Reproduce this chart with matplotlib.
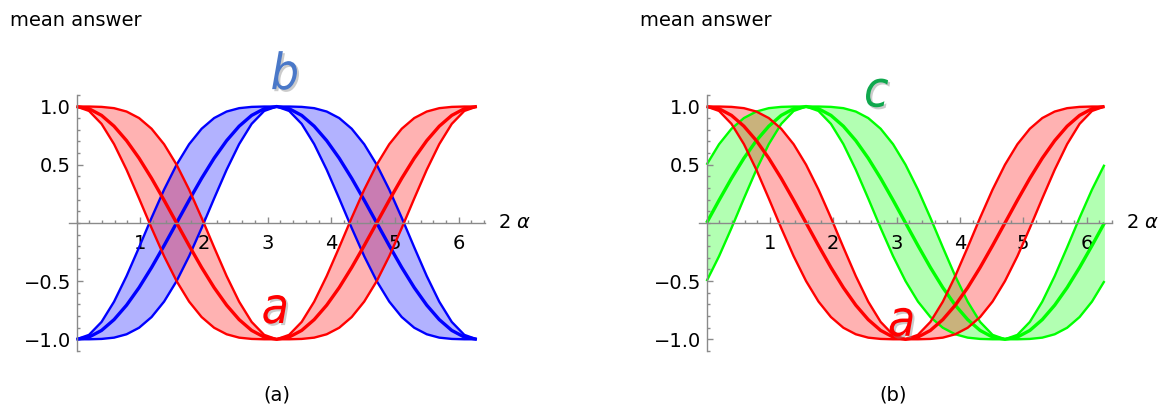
import matplotlib
matplotlib.use("Agg")
import matplotlib.pyplot as plt
import matplotlib.patheffects as pe
from matplotlib.ticker import MultipleLocator
import numpy as np

# sample points: 0 .. 2*pi in steps of pi/16
two_alpha = np.linspace(0, 2 * np.pi, 33)

# answer a (red): mean and band edges
a_mid = [1.000, 0.981, 0.924, 0.831, 0.707, 0.556, 0.383, 0.195, 0.000,
         -0.195, -0.383, -0.556, -0.707, -0.831, -0.924, -0.981, -1.000,
         -0.981, -0.924, -0.831, -0.707, -0.556, -0.383, -0.195, 0.000,
         0.195, 0.383, 0.556, 0.707, 0.831, 0.924, 0.981, 1.000]
a_hi = [1.000, 1.000, 0.997, 0.986, 0.957, 0.901, 0.809, 0.676, 0.500,
        0.286, 0.044, -0.210, -0.457, -0.677, -0.851, -0.962, -1.000,
        -0.962, -0.851, -0.677, -0.457, -0.210, 0.044, 0.286, 0.500,
        0.676, 0.809, 0.901, 0.957, 0.986, 0.997, 1.000, 1.000]
a_lo = [1.000, 0.962, 0.851, 0.677, 0.457, 0.210, -0.044, -0.286, -0.500,
        -0.676, -0.809, -0.901, -0.957, -0.986, -0.997, -1.000, -1.000,
        -1.000, -0.997, -0.986, -0.957, -0.901, -0.809, -0.676, -0.500,
        -0.286, -0.044, 0.210, 0.457, 0.677, 0.851, 0.962, 1.000]

# answer b (blue)
b_mid = [-1.000, -0.981, -0.924, -0.831, -0.707, -0.556, -0.383, -0.195, 0.000,
         0.195, 0.383, 0.556, 0.707, 0.831, 0.924, 0.981, 1.000,
         0.981, 0.924, 0.831, 0.707, 0.556, 0.383, 0.195, 0.000,
         -0.195, -0.383, -0.556, -0.707, -0.831, -0.924, -0.981, -1.000]
b_hi = [-1.000, -0.962, -0.851, -0.677, -0.457, -0.210, 0.044, 0.286, 0.500,
        0.676, 0.809, 0.901, 0.957, 0.986, 0.997, 1.000, 1.000,
        1.000, 0.997, 0.986, 0.957, 0.901, 0.809, 0.676, 0.500,
        0.286, 0.044, -0.210, -0.457, -0.677, -0.851, -0.962, -1.000]
b_lo = [-1.000, -1.000, -0.997, -0.986, -0.957, -0.901, -0.809, -0.676, -0.500,
        -0.286, -0.044, 0.210, 0.457, 0.677, 0.851, 0.962, 1.000,
        0.962, 0.851, 0.677, 0.457, 0.210, -0.044, -0.286, -0.500,
        -0.676, -0.809, -0.901, -0.957, -0.986, -0.997, -1.000, -1.000]

# answer c (green)
c_mid = [0.000, 0.195, 0.383, 0.556, 0.707, 0.831, 0.924, 0.981, 1.000,
         0.981, 0.924, 0.831, 0.707, 0.556, 0.383, 0.195, 0.000,
         -0.195, -0.383, -0.556, -0.707, -0.831, -0.924, -0.981, -1.000,
         -0.981, -0.924, -0.831, -0.707, -0.556, -0.383, -0.195, 0.000]
c_hi = [0.500, 0.676, 0.809, 0.901, 0.957, 0.986, 0.997, 1.000, 1.000,
        1.000, 0.997, 0.986, 0.957, 0.901, 0.809, 0.676, 0.500,
        0.286, 0.044, -0.210, -0.457, -0.677, -0.851, -0.962, -1.000,
        -0.962, -0.851, -0.677, -0.457, -0.210, 0.044, 0.286, 0.500]
c_lo = [-0.500, -0.286, -0.044, 0.210, 0.457, 0.677, 0.851, 0.962, 1.000,
        0.962, 0.851, 0.677, 0.457, 0.210, -0.044, -0.286, -0.500,
        -0.676, -0.809, -0.901, -0.957, -0.986, -0.997, -1.000, -1.000,
        -1.000, -0.997, -0.986, -0.957, -0.901, -0.809, -0.676, -0.500]

y_ticks = [-1.0, -0.5, 0.5, 1.0]
y_ticklabels = ["\u22121.0", "\u22120.5", "0.5", "1.0"]
x_ticks = [1, 2, 3, 4, 5, 6]

AXIS_GREY = "#8a8a8a"
FS = 14


def band(ax, lo, mid, hi, color):
    ax.fill_between(two_alpha, lo, hi, color=color, alpha=0.3, lw=0)
    ax.plot(two_alpha, lo, color=color, lw=1.7, solid_capstyle="butt")
    ax.plot(two_alpha, hi, color=color, lw=1.7, solid_capstyle="butt")
    ax.plot(two_alpha, mid, color=color, lw=2.4, solid_capstyle="butt")


def style_axes(ax):
    ax.set_xlim(-0.126, 6.41)
    ax.set_ylim(-1.1, 1.1)
    for side in ("top", "right"):
        ax.spines[side].set_visible(False)
    for side in ("left", "bottom"):
        ax.spines[side].set_position(("data", 0))
        ax.spines[side].set_color(AXIS_GREY)
        ax.spines[side].set_linewidth(1.0)
    ax.set_xticks(x_ticks)
    ax.set_xticklabels([str(t) for t in x_ticks])
    ax.set_yticks(y_ticks)
    ax.set_yticklabels(y_ticklabels)
    ax.xaxis.set_minor_locator(MultipleLocator(0.2))
    ax.yaxis.set_minor_locator(MultipleLocator(0.1))
    ax.tick_params(which="both", direction="in", color=AXIS_GREY, width=1.0,
                   labelsize=FS, labelcolor="black")
    ax.tick_params(which="major", length=4.5)
    ax.tick_params(which="minor", length=2.5)
    ax.tick_params(axis="x", which="major", pad=8)
    ax.tick_params(axis="y", which="major", pad=4)
    ax.text(6.62, 0, "2 $\\alpha$", fontsize=FS, va="center", ha="left",
            clip_on=False)
    ax.set_facecolor("none")


def tag(ax, x, y, s, color):
    ax.text(x, y, s, color=color, fontsize=36, style="italic",
            fontstretch="condensed", ha="center", va="center", clip_on=False,
            path_effects=[pe.withSimplePatchShadow(offset=(1.5, -1.5),
                                                   shadow_rgbFace="0.55",
                                                   alpha=0.45)])


fig = plt.figure(figsize=(11.65, 4.11), dpi=100)

ax1 = fig.add_axes([0.0588, 0.1462, 0.3574, 0.6229])
band(ax1, b_lo, b_mid, b_hi, "blue")
band(ax1, a_lo, a_mid, a_hi, "red")
style_axes(ax1)
tag(ax1, 3.27, 1.27, "b", "#4a78c8")
tag(ax1, 3.12, -0.74, "a", "red")

ax2 = fig.add_axes([0.5997, 0.1462, 0.3552, 0.6229])
band(ax2, c_lo, c_mid, c_hi, "#00ff00")
band(ax2, a_lo, a_mid, a_hi, "red")
style_axes(ax2)
tag(ax2, 2.68, 1.12, "c", "#10a84e")
tag(ax2, 3.08, -0.85, "a", "red")

fig.text(10 / 1165, 1 - 20 / 411, "mean answer", fontsize=FS, va="center")
fig.text(640 / 1165, 1 - 20 / 411, "mean answer", fontsize=FS, va="center")
fig.text(277 / 1165, 1 - 395 / 411, "(a)", fontsize=FS, ha="center", va="center")
fig.text(893 / 1165, 1 - 395 / 411, "(b)", fontsize=FS, ha="center", va="center")

fig.savefig("out.png", dpi=100)
